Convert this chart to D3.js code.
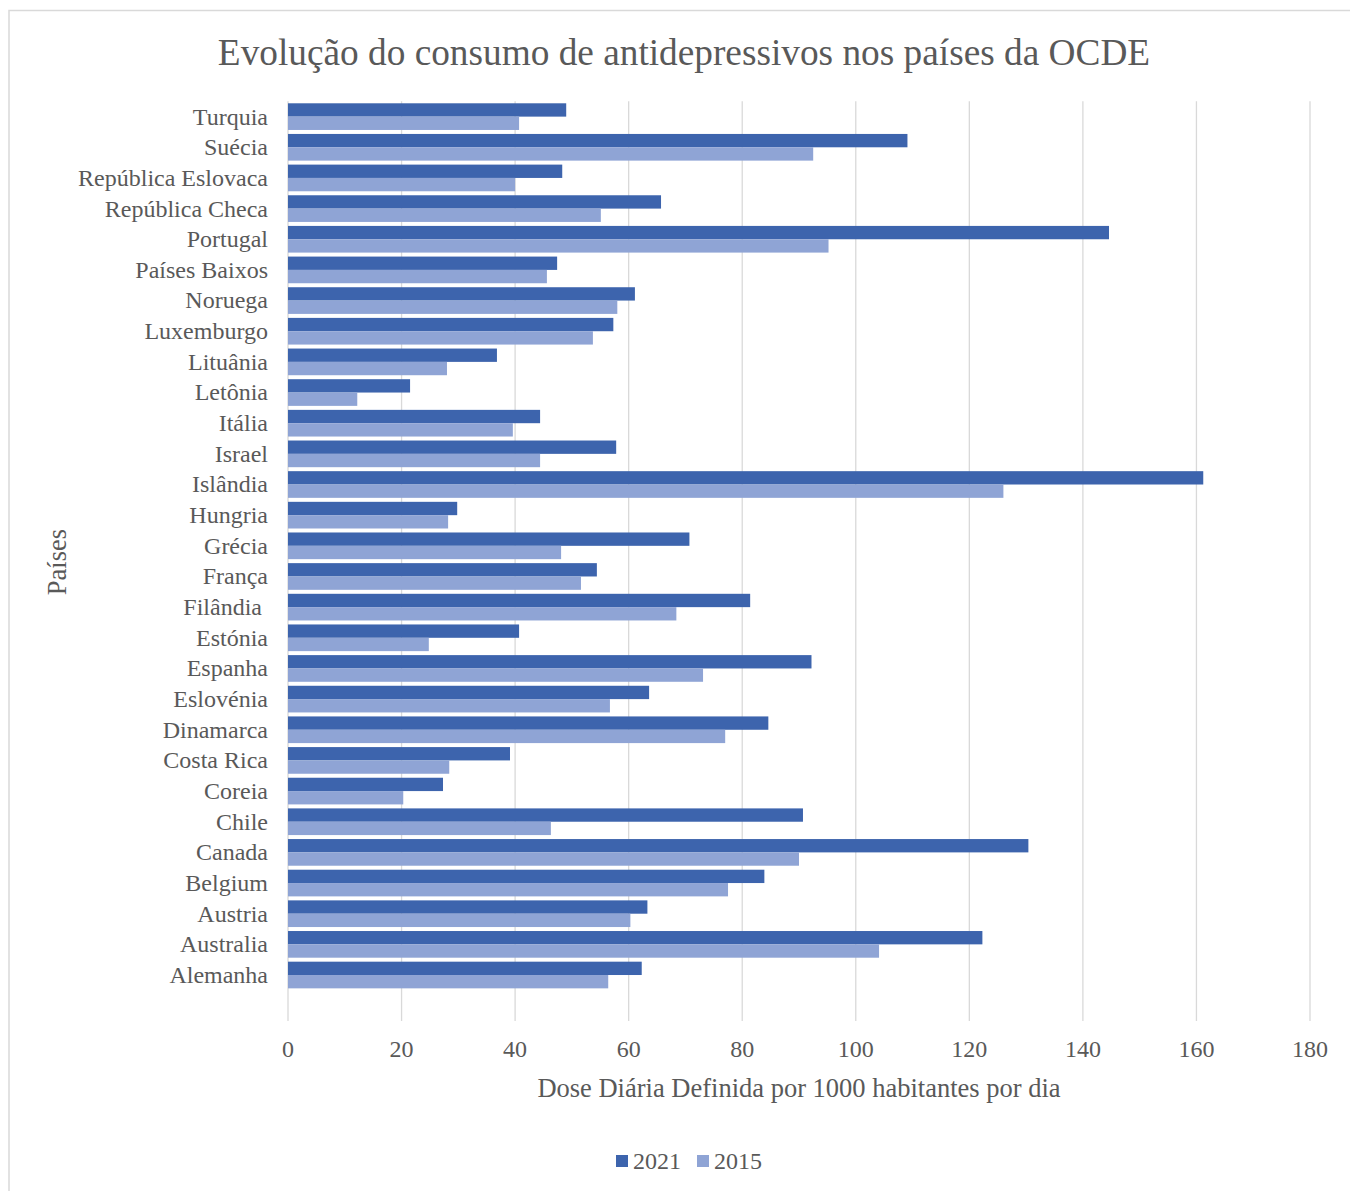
<!DOCTYPE html>
<html>
<head>
<meta charset="utf-8">
<script src="https://cdn.jsdelivr.net/npm/d3@7"></script>
<style>
  body { margin: 0; background: #fff; }
  text { font-family: "Liberation Serif", "Times New Roman", serif; fill: #595959; white-space: pre; }
</style>
</head>
<body>
<svg id="chart" width="1350" height="1191"></svg>
<script>
var countries = ["Turquia", "Suécia", "República Eslovaca", "República Checa", "Portugal", "Países Baixos",
  "Noruega", "Luxemburgo", "Lituânia", "Letônia", "Itália", "Israel", "Islândia", "Hungria", "Grécia",
  "França", "Filândia ", "Estónia", "Espanha", "Eslovénia", "Dinamarca", "Costa Rica", "Coreia", "Chile",
  "Canada", "Belgium", "Austria", "Australia", "Alemanha"];
var values2021 = [49.0, 109.1, 48.3, 65.7, 144.6, 47.4, 61.1, 57.3, 36.8, 21.5, 44.4, 57.8, 161.2, 29.8, 70.7,
  54.4, 81.4, 40.7, 92.2, 63.6, 84.6, 39.1, 27.3, 90.7, 130.4, 83.9, 63.3, 122.3, 62.3];
var values2015 = [40.7, 92.5, 40.0, 55.1, 95.2, 45.6, 58.0, 53.7, 28.0, 12.2, 39.6, 44.4, 126.0, 28.2, 48.1,
  51.6, 68.4, 24.8, 73.1, 56.7, 77.0, 28.4, 20.3, 46.3, 90.0, 77.5, 60.3, 104.1, 56.4];
var seriesNames = ["2021", "2015"];
var seriesColors = ["#3d64ad", "#8fa4d5"];
var xTicks = [0, 20, 40, 60, 80, 100, 120, 140, 160, 180];

var svg = d3.select("#chart");

// outer frame (right/bottom edges fall outside the picture)
svg.append("rect").attr("x", 9).attr("y", 10.5).attr("width", 1400).attr("height", 1300)
  .attr("fill", "none").attr("stroke", "#d9d9d9").attr("stroke-width", 1.5);

var plotTop = 101.3, plotBottom = 1021, bandStep = (plotBottom - plotTop) / 30;

var x = d3.scaleLinear().domain([0, 180]).range([288, 1310]);
var y = d3.scaleBand().domain(countries).range([plotTop, plotTop + bandStep * countries.length])
  .paddingInner(0.13).paddingOuter(0.065);
var ySub = d3.scaleBand().domain(seriesNames).range([0, y.bandwidth()]);

// gridlines
svg.append("g").selectAll("line").data(xTicks).enter().append("line")
  .attr("x1", function (d) { return x(d); }).attr("x2", function (d) { return x(d); })
  .attr("y1", plotTop).attr("y2", plotBottom)
  .attr("stroke", "#d9d9d9").attr("stroke-width", 1.3);

// bars
var rows = countries.map(function (c, i) {
  return { name: c, vals: [values2021[i], values2015[i]] };
});
var group = svg.append("g").selectAll("g").data(rows).enter().append("g")
  .attr("transform", function (d) { return "translate(0," + y(d.name) + ")"; });
group.selectAll("rect").data(function (d) {
  return d.vals.map(function (v, k) { return { s: seriesNames[k], v: v, k: k }; });
}).enter().append("rect")
  .attr("x", x(0))
  .attr("y", function (d) { return ySub(d.s); })
  .attr("width", function (d) { return x(d.v) - x(0); })
  .attr("height", ySub.bandwidth())
  .attr("fill", function (d) { return seriesColors[d.k]; });

// category labels
svg.append("g").selectAll("text").data(countries).enter().append("text")
  .attr("x", 268)
  .attr("y", function (d) { return y(d) + y.bandwidth() / 2; })
  .attr("dy", "0.33em")
  .attr("text-anchor", "end")
  .style("font-size", "24px")
  .text(function (d) { return d; });

// tick labels
svg.append("g").selectAll("text").data(xTicks).enter().append("text")
  .attr("x", function (d) { return x(d); })
  .attr("y", 1049).attr("dy", "0.33em")
  .attr("text-anchor", "middle")
  .style("font-size", "24px")
  .text(function (d) { return d; });

// title & axis titles
svg.append("text").attr("x", 684).attr("y", 53).attr("dy", "0.33em").attr("text-anchor", "middle")
  .style("font-size", "37.3px").text("Evolução do consumo de antidepressivos nos países da OCDE");
svg.append("text").attr("x", 799).attr("y", 1088).attr("dy", "0.33em").attr("text-anchor", "middle")
  .style("font-size", "26.5px").text("Dose Diária Definida por 1000 habitantes por dia");
svg.append("text").attr("transform", "translate(57,562) rotate(-90)").attr("dy", "0.33em")
  .attr("text-anchor", "middle").style("font-size", "26.5px").text("Países");

// legend
var legend = svg.append("g").selectAll("g").data(seriesNames).enter().append("g")
  .attr("transform", function (d, i) { return "translate(" + (616 + i * 81) + ",1155)"; });
legend.append("rect").attr("width", 12).attr("height", 12)
  .attr("fill", function (d, i) { return seriesColors[i]; });
legend.append("text").attr("x", 17).attr("y", 6).attr("dy", "0.33em")
  .style("font-size", "24px").text(function (d) { return d; });
</script>
</body>
</html>
